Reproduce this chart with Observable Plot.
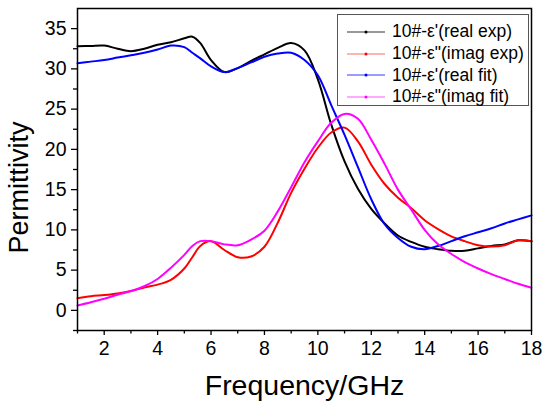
<!DOCTYPE html>
<html>
<head>
<meta charset="utf-8">
<script src="https://cdn.jsdelivr.net/npm/d3@7"></script>
<script src="https://cdn.jsdelivr.net/npm/@observablehq/plot@0.6"></script>
<style>
  body { margin: 0; background: white; }
  #wrap { position: relative; width: 550px; height: 408px; font-family: "Liberation Sans", Arial, sans-serif; }
  #legend { position: absolute; left: 337px; top: 14px; width: 192px; height: 92px; border: 1px solid #555; background: white; box-sizing: border-box; padding-top: 6px; }
  .row { display: flex; align-items: center; height: 21.7px; }
  .row svg { margin-left: 9px; margin-right: 7px; }
  .row span { font-size: 17.5px; color: black; white-space: nowrap; }
</style>
</head>
<body>
<div id="wrap"><div id="legend"></div></div>
<script>
const freq = [1,1.5,2,2.5,3,3.5,4,4.5,5,5.3,5.6,6,6.5,7,7.5,8,8.5,9,9.5,10,10.5,11,11.5,12,12.5,13,13.5,14,14.5,15,15.5,16,16.5,17,17.5,18];
const realExp = [32.8,32.85,32.9,32.5,32.2,32.5,33.0,33.3,33.8,34.0,33.2,31.1,29.6,30.1,31.0,31.8,32.6,33.2,32.3,28.7,23.1,18.5,15.1,12.6,10.8,9.3,8.5,7.9,7.6,7.4,7.4,7.7,8.0,8.2,8.7,8.6];
const imagExp = [1.5,1.75,1.9,2.1,2.4,2.85,3.2,3.8,5.2,6.6,8.0,8.6,7.5,6.6,6.7,7.9,10.9,14.6,17.6,20.2,22.1,22.7,21.0,18.1,15.7,14.0,12.7,11.2,10.1,9.2,8.6,8.1,7.95,8.1,8.7,8.6];
const realFit = [30.7,30.9,31.1,31.4,31.7,32.0,32.4,32.9,32.7,32.0,31.3,30.3,29.6,30.1,30.8,31.5,31.9,32.0,31.1,29.2,25.5,21.8,17.8,13.8,10.7,9.0,7.9,7.6,8.0,8.6,9.2,9.7,10.2,10.8,11.3,11.8];
const imagFit = [0.6,1.0,1.45,1.95,2.4,3.0,3.9,5.3,6.9,8.0,8.6,8.6,8.2,8.1,8.8,9.9,12.3,15.3,18.4,21.0,23.3,24.4,23.8,21.2,18.2,15.0,12.5,10.0,8.2,7.0,6.0,5.2,4.5,3.9,3.3,2.8];
const seriesNames = ["10#-ε'(real exp)", "10#-ε\"(imag exp)", "10#-ε'(real fit)", "10#-ε\"(imag fit)"];
const seriesColors = ["#000000", "#ff0000", "#0000ff", "#ff00ff"];
const legendLineColors = ["#333333", "#ff6a6a", "#3a3aff", "#ff55ff"];
const seriesValues = [realExp, imagExp, realFit, imagFit];
const xMajor = [2,4,6,8,10,12,14,16,18];
const xMinor = [1,3,5,7,9,11,13,15,17];
const yMajor = [0,5,10,15,20,25,30,35];
const yMinor = [-2.5,2.5,7.5,12.5,17.5,22.5,27.5,32.5];

const series = seriesValues.map((vals, i) => freq.map((f, j) => ({f, v: vals[j], s: seriesNames[i]})));

const chart = Plot.plot({
  width: 550, height: 408,
  marginLeft: 77, marginRight: 19, marginTop: 8, marginBottom: 78,
  x: {domain: [1, 18]},
  y: {domain: [-2.5, 37.5]},
  style: {fontFamily: "'Liberation Sans', Arial, sans-serif", color: "black", background: "white"},
  marks: [
    ...series.map((rows, i) => Plot.line(rows, {x: "f", y: "v", stroke: seriesColors[i], strokeWidth: 2, curve: "catmull-rom"})),
    Plot.frame({stroke: "black", strokeWidth: 1.5}),
    Plot.axisX({ticks: xMajor, tickSize: 5, tickPadding: 6, fontSize: 19.5, label: null, strokeWidth: 1.3}),
    Plot.axisX({ticks: xMinor, tickSize: 3.5, tickFormat: () => "", label: null, strokeWidth: 1.3}),
    Plot.axisY({ticks: yMajor, tickSize: 6, tickPadding: 5, fontSize: 19.5, label: null, strokeWidth: 1.3}),
    Plot.axisY({ticks: yMinor, tickSize: 4, tickFormat: () => "", label: null, strokeWidth: 1.3}),
    Plot.text(["Frequency/GHz"], {text: d => d, frameAnchor: "bottom", textAnchor: "middle", dy: 64, fontSize: 28.5}),
    Plot.text(["Permittivity"], {text: d => d, frameAnchor: "left", textAnchor: "middle", lineAnchor: "middle", dx: -58, dy: 18, rotate: -90, fontSize: 27})
  ]
});
document.getElementById("wrap").prepend(chart);

const legend = document.getElementById("legend");
seriesNames.forEach((name, i) => {
  const row = document.createElement("div");
  row.className = "row";
  row.innerHTML = `<svg width="38" height="6"><line x1="0" x2="38" y1="3" y2="3" stroke="${legendLineColors[i]}" stroke-width="1.2"/><circle cx="19" cy="3" r="1.5" fill="${seriesColors[i]}"/></svg><span>${name}</span>`;
  legend.appendChild(row);
});
</script>
</body>
</html>
